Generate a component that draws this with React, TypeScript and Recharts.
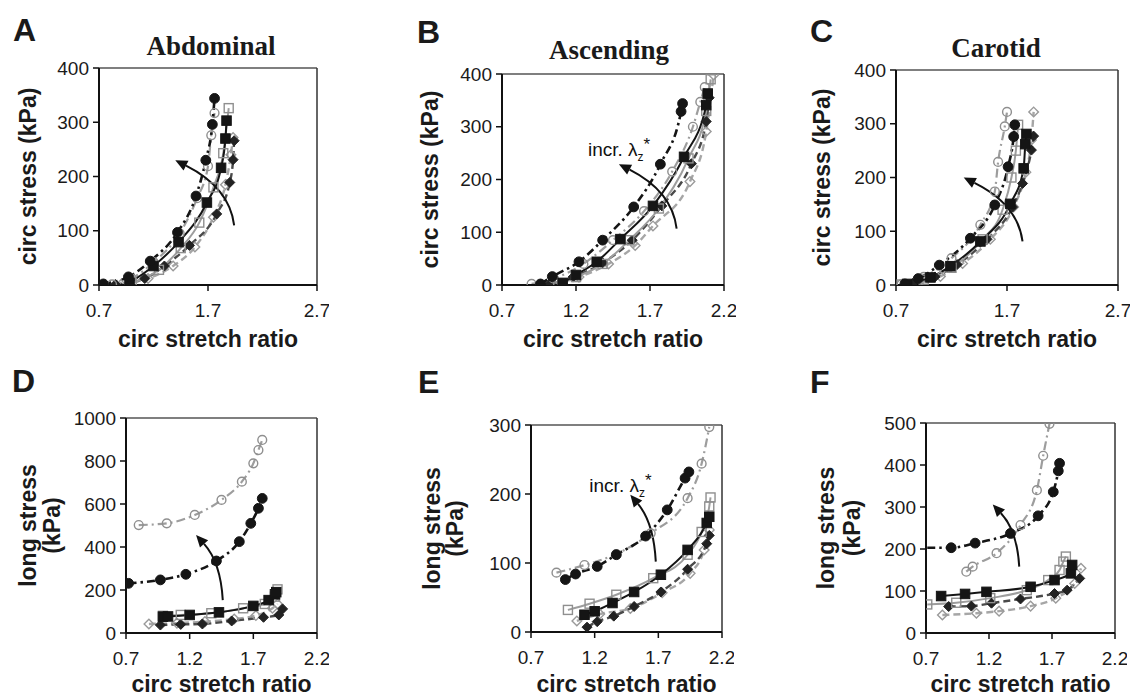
import React from "react";
import { LineChart, Line, XAxis, YAxis, ReferenceLine } from "recharts";

type Pt = [number, number];

const FONT = "'Liberation Sans', Arial, Helvetica, sans-serif";
const SERIF = "'Liberation Serif', 'Times New Roman', serif";

// tick sets
const ticksWide = [0.7, 1.7, 2.7];
const ticksNarrow = [0.7, 1.2, 1.7, 2.2];
const circStressTicks = [0, 100, 200, 300, 400];
const abdLongTicks = [0, 200, 400, 600, 800, 1000];
const ascLongTicks = [0, 100, 200, 300];
const carLongTicks = [0, 100, 200, 300, 400, 500];

// A - abdominal, circ stress
const abdCircGC: Pt[] = [[0.82, 1], [1.0, 12], [1.2, 42], [1.44, 95], [1.6, 160], [1.7, 219], [1.73, 276], [1.76, 317]];
const abdCircBC: Pt[] = [[0.74, 2], [0.97, 15], [1.17, 44], [1.42, 97], [1.59, 164], [1.68, 230], [1.74, 296], [1.76, 344]];
const abdCircGS: Pt[] = [[1.0, 3], [1.25, 28], [1.45, 68], [1.62, 115], [1.75, 180], [1.84, 243], [1.89, 326]];
const abdCircBS: Pt[] = [[0.98, 4], [1.2, 35], [1.43, 79], [1.69, 152], [1.82, 216], [1.86, 270], [1.87, 303]];
const abdCircGD: Pt[] = [[0.9, 1], [1.15, 12], [1.38, 35], [1.58, 70], [1.75, 125], [1.86, 185], [1.91, 240], [1.93, 272]];
const abdCircBD: Pt[] = [[0.85, 1], [1.12, 12], [1.3, 35], [1.53, 73], [1.78, 131], [1.9, 189], [1.93, 231], [1.94, 266]];

// B - ascending, circ stress
const ascCircGC: Pt[] = [[0.9, 2], [1.05, 12], [1.25, 40], [1.45, 85], [1.66, 140], [1.85, 215], [1.99, 300], [2.04, 347], [2.07, 375]];
const ascCircBC: Pt[] = [[0.96, 2], [1.04, 16], [1.22, 44], [1.38, 85], [1.59, 148], [1.77, 229], [1.91, 329], [1.92, 344]];
const ascCircGS: Pt[] = [[1.08, 3], [1.2, 15], [1.38, 40], [1.56, 85], [1.76, 145], [1.96, 240], [2.08, 330], [2.11, 390]];
const ascCircBS: Pt[] = [[1.11, 4], [1.2, 19], [1.34, 44], [1.5, 87], [1.72, 150], [1.93, 243], [2.08, 341], [2.09, 363]];
const ascCircGD: Pt[] = [[1.05, 2], [1.22, 15], [1.42, 40], [1.6, 75], [1.72, 112], [1.97, 196], [2.08, 291], [2.13, 398]];
const ascCircBD: Pt[] = [[1.02, 2], [1.18, 15], [1.38, 42], [1.58, 85], [1.78, 150], [1.98, 230], [2.08, 310], [2.1, 355]];

// C - carotid, circ stress
const carCircGC: Pt[] = [[0.75, 1], [0.95, 15], [1.2, 50], [1.46, 112], [1.59, 174], [1.62, 229], [1.68, 295], [1.7, 322]];
const carCircBC: Pt[] = [[0.78, 2], [0.9, 12], [1.09, 37], [1.37, 87], [1.59, 149], [1.71, 220], [1.76, 276], [1.77, 298]];
const carCircGS: Pt[] = [[0.75, 1], [0.95, 10], [1.2, 32], [1.48, 85], [1.66, 140], [1.74, 200], [1.78, 250], [1.8, 298]];
const carCircBS: Pt[] = [[0.8, 2], [1.01, 14], [1.19, 35], [1.46, 81], [1.73, 151], [1.85, 217], [1.865, 262], [1.875, 281]];
const carCircGD: Pt[] = [[0.9, 3], [1.1, 16], [1.3, 40], [1.55, 85], [1.76, 145], [1.87, 210], [1.92, 270], [1.94, 322]];
const carCircBD: Pt[] = [[0.85, 3], [1.05, 15], [1.25, 38], [1.52, 85], [1.75, 145], [1.84, 189], [1.92, 251], [1.94, 277]];

// D - abdominal, long stress
const abdLongGC: Pt[] = [[0.8, 502], [1.02, 510], [1.24, 549], [1.45, 619], [1.61, 704], [1.7, 789], [1.74, 851], [1.77, 898]];
const abdLongBC: Pt[] = [[0.72, 231], [0.97, 247], [1.17, 273], [1.41, 335], [1.59, 425], [1.68, 510], [1.74, 580], [1.77, 626]];
const abdLongGS: Pt[] = [[0.99, 80], [1.13, 84], [1.37, 92], [1.62, 115], [1.79, 135], [1.87, 169], [1.89, 203]];
const abdLongBS: Pt[] = [[0.99, 76], [1.03, 77], [1.2, 84], [1.43, 96], [1.7, 126], [1.82, 153], [1.87, 180], [1.88, 190]];
const abdLongGD: Pt[] = [[0.88, 42], [1.1, 46], [1.32, 53], [1.55, 65], [1.72, 81], [1.85, 115], [1.89, 135]];
const abdLongBD: Pt[] = [[0.97, 37], [1.13, 40], [1.3, 42], [1.53, 56], [1.78, 73], [1.9, 84], [1.93, 112]];

// E - ascending, long stress
const ascLongGC: Pt[] = [[0.9, 86], [1.12, 97], [1.37, 113], [1.64, 143], [1.93, 194], [2.04, 244], [2.1, 297]];
const ascLongBC: Pt[] = [[0.97, 76], [1.05, 84], [1.22, 95], [1.37, 112], [1.6, 139], [1.77, 177], [1.91, 223], [1.94, 232]];
const ascLongGS: Pt[] = [[0.99, 32], [1.16, 41], [1.37, 54], [1.66, 78], [1.93, 112], [2.04, 145], [2.1, 182], [2.11, 195]];
const ascLongBS: Pt[] = [[1.12, 25], [1.2, 30], [1.34, 42], [1.51, 58], [1.72, 83], [1.93, 119], [2.08, 158], [2.1, 167]];
const ascLongGD: Pt[] = [[1.06, 16], [1.24, 26], [1.48, 34], [1.73, 57], [1.95, 85], [2.06, 119], [2.1, 148]];
const ascLongBD: Pt[] = [[1.14, 7], [1.22, 15], [1.35, 23], [1.51, 37], [1.72, 58], [1.93, 91], [2.08, 128], [2.1, 140]];

// F - carotid, long stress
const carLongGC: Pt[] = [[1.02, 146], [1.07, 158], [1.26, 190], [1.45, 257], [1.58, 340], [1.63, 422], [1.68, 498]];
const carLongBC: Pt[] = [[0.71, 203], [0.9, 203], [1.09, 214], [1.37, 237], [1.59, 279], [1.71, 336], [1.75, 386], [1.76, 404]];
const carLongGS: Pt[] = [[0.71, 68], [0.94, 72], [1.21, 83], [1.5, 102], [1.67, 126], [1.76, 150], [1.79, 170], [1.81, 182]];
const carLongBS: Pt[] = [[0.82, 88], [1.01, 93], [1.18, 98], [1.53, 110], [1.72, 126], [1.85, 142], [1.86, 162]];
const carLongGD: Pt[] = [[0.83, 43], [1.1, 47], [1.28, 52], [1.53, 64], [1.73, 83], [1.88, 118], [1.93, 154]];
const carLongBD: Pt[] = [[0.88, 63], [1.06, 64], [1.22, 71], [1.45, 81], [1.72, 94], [1.82, 102], [1.92, 130]];

type Kind = "circle" | "square" | "diamond";
interface SeriesStyle {
  stroke: string;
  width: number;
  dash?: string;
  kind: Kind;
  filled: boolean;
  mark: string;
}

const STYLES: Record<string, SeriesStyle> = {
  GD: { stroke: "#a6a6a6", width: 2.4, dash: "7 4", kind: "diamond", filled: false, mark: "#9a9a9a" },
  BD: { stroke: "#4a4a4a", width: 2.4, dash: "7 4", kind: "diamond", filled: true, mark: "#222" },
  GS: { stroke: "#9d9d9d", width: 2, kind: "square", filled: false, mark: "#8f8f8f" },
  GC: { stroke: "#9d9d9d", width: 2.2, dash: "9 4 2 4", kind: "circle", filled: false, mark: "#8f8f8f" },
  BS: { stroke: "#151515", width: 2, kind: "square", filled: true, mark: "#151515" },
  BC: { stroke: "#151515", width: 2.6, dash: "8 4 2.5 4", kind: "circle", filled: true, mark: "#151515" },
};
const ORDER = ["GD", "BD", "GS", "GC", "BS", "BC"];

interface PanelCfg {
  id: string;
  box: [number, number, number, number];
  xDomain: [number, number];
  xTicks: number[];
  yDomain: [number, number];
  yTicks: number[];
  yLabel: string[];
  yLabelOffsets: number[];
  xLabelDy: number;
  letterPos: [number, number];
  title?: string;
  titlePos?: [number, number];
  series: Record<string, Pt[]>;
  hideFirstDot?: string[];
  arrow: { from: Pt; to: Pt };
  note?: { dx: number; dy: number };
}

const PANELS: PanelCfg[] = [
  {
    id: "A", box: [99, 68, 317, 285], xDomain: [0.7, 2.7], xTicks: ticksWide, yDomain: [0, 400], yTicks: circStressTicks,
    yLabel: ["circ stress (kPa)"], yLabelOffsets: [-71], xLabelDy: 62, letterPos: [13, 41], title: "Abdominal", titlePos: [211, 55],
    series: { GD: abdCircGD, BD: abdCircBD, GS: abdCircGS, GC: abdCircGC, BS: abdCircBS, BC: abdCircBC },
    arrow: { from: [1.94, 110], to: [1.4, 230] },
  },
  {
    id: "B", box: [502, 74, 724, 285], xDomain: [0.7, 2.2], xTicks: ticksNarrow, yDomain: [0, 400], yTicks: circStressTicks,
    yLabel: ["circ stress (kPa)"], yLabelOffsets: [-72], xLabelDy: 62, letterPos: [417, 43], title: "Ascending", titlePos: [609, 59],
    series: { GD: ascCircGD, BD: ascCircBD, GS: ascCircGS, GC: ascCircGC, BS: ascCircBS, BC: ascCircBC },
    arrow: { from: [1.88, 107], to: [1.49, 229] }, note: { dx: -31, dy: -8 },
  },
  {
    id: "C", box: [896, 70, 1118, 285], xDomain: [0.7, 2.7], xTicks: ticksWide, yDomain: [0, 400], yTicks: circStressTicks,
    yLabel: ["circ stress (kPa)"], yLabelOffsets: [-74], xLabelDy: 62, letterPos: [810, 42], title: "Carotid", titlePos: [996, 57],
    series: { GD: carCircGD, BD: carCircBD, GS: carCircGS, GC: carCircGC, BS: carCircBS, BC: carCircBC },
    arrow: { from: [1.84, 81], to: [1.31, 200] },
  },
  {
    id: "D", box: [126, 418, 317, 633], xDomain: [0.7, 2.2], xTicks: ticksNarrow, yDomain: [0, 1000], yTicks: abdLongTicks,
    yLabel: ["long stress", "(kPa)"], yLabelOffsets: [-98, -74], xLabelDy: 59, letterPos: [12, 392],
    series: { GD: abdLongGD, BD: abdLongBD, GS: abdLongGS, GC: abdLongGC, BS: abdLongBS, BC: abdLongBC },
    arrow: { from: [1.46, 153], to: [1.25, 456] },
  },
  {
    id: "E", box: [531, 425, 722, 632], xDomain: [0.7, 2.2], xTicks: ticksNarrow, yDomain: [0, 300], yTicks: ascLongTicks,
    yLabel: ["long stress", "(kPa)"], yLabelOffsets: [-99, -76], xLabelDy: 60, letterPos: [418, 393],
    series: { GD: ascLongGD, BD: ascLongBD, GS: ascLongGS, GC: ascLongGC, BS: ascLongBS, BC: ascLongBC },
    arrow: { from: [1.68, 102], to: [1.48, 199] }, note: { dx: -41, dy: -3 },
  },
  {
    id: "F", box: [926, 423, 1115, 633], xDomain: [0.7, 2.2], xTicks: ticksNarrow, yDomain: [0, 500], yTicks: carLongTicks,
    yLabel: ["long stress", "(kPa)"], yLabelOffsets: [-100, -74], xLabelDy: 59, letterPos: [810, 393],
    series: { GD: carLongGD, BD: carLongBD, GS: carLongGS, GC: carLongGC, BS: carLongBS, BC: carLongBC },
    hideFirstDot: ["BC"],
    arrow: { from: [1.44, 158], to: [1.23, 306] },
  },
];

const toPoints = (arr: Pt[]) => arr.map(([x, y]) => ({ x, y }));

function makeDot(style: SeriesStyle, hideFirst: boolean) {
  return (props: any) => {
    const { cx, cy, index } = props;
    const key = `dot-${index}`;
    if (cx == null || cy == null || (hideFirst && index === 0)) return <g key={key} />;
    const fill = style.filled ? style.mark : "none";
    const sw = style.filled ? 1 : 1.4;
    if (style.kind === "circle") {
      return <circle key={key} cx={cx} cy={cy} r={style.filled ? 4.9 : 4.4} fill={fill} stroke={style.mark} strokeWidth={sw} />;
    }
    if (style.kind === "square") {
      const s = style.filled ? 9.5 : 9;
      return <rect key={key} x={cx - s / 2} y={cy - s / 2} width={s} height={s} fill={fill} stroke={style.mark} strokeWidth={sw} />;
    }
    const d = style.filled ? 5 : 4.8;
    return (
      <polygon key={key} points={`${cx},${cy - d} ${cx + d},${cy} ${cx},${cy + d} ${cx - d},${cy}`}
        fill={fill} stroke={style.mark} strokeWidth={sw} />
    );
  };
}

function CurvedArrow(props: any) {
  const { x1, y1, x2, y2, note } = props;
  if ([x1, y1, x2, y2].some((v) => v == null || isNaN(v))) return <g />;
  const qx = x1 - (x1 - x2) * 0.08;
  const qy = y2 + (y1 - y2) * 0.42;
  let ux = x2 - qx;
  let uy = y2 - qy;
  const len = Math.hypot(ux, uy) || 1;
  ux /= len;
  uy /= len;
  const L = 12;
  const W = 5.5;
  const bx = x2 - ux * L;
  const by = y2 - uy * L;
  return (
    <g>
      <path d={`M${x1},${y1} Q${qx},${qy} ${bx},${by}`} fill="none" stroke="#111" strokeWidth={2} />
      <polygon points={`${x2},${y2} ${bx - uy * W},${by + ux * W} ${bx + uy * W},${by - ux * W}`} fill="#111" />
      {note && (
        <text x={x2 + note.dx} y={y2 + note.dy} fontSize={19} fontFamily={FONT} fill="#111">
          incr. λ
          <tspan fontSize={12} dy={5}>z</tspan>
          <tspan fontSize={17} dy={-11}>*</tspan>
        </text>
      )}
    </g>
  );
}

const ML = 110;
const MR = 12;
const MT = 10;
const MB = 80;

function Panel({ cfg }: { cfg: PanelCfg }) {
  const [x0, y0, x1, y1] = cfg.box;
  const w = x1 - x0;
  const h = y1 - y0;
  const axisTick = { fill: "#1a1a1a", fontSize: 19, fontFamily: FONT };
  return (
    <div style={{ position: "absolute", left: x0 - ML, top: y0 - MT }}>
      <LineChart width={w + ML + MR} height={h + MT + MB} margin={{ top: MT, right: MR, bottom: 0, left: 0 }}>
        <XAxis
          type="number"
          dataKey="x"
          domain={cfg.xDomain}
          ticks={cfg.xTicks}
          interval={0}
          allowDataOverflow
          height={MB}
          axisLine={{ stroke: "#111", strokeWidth: 2 }}
          tickLine={{ stroke: "#111", strokeWidth: 1.5 }}
          tickSize={6}
          tickMargin={13}
          tick={axisTick}
          tickFormatter={(v: number) => v.toFixed(1)}
        />
        <YAxis
          type="number"
          domain={cfg.yDomain}
          ticks={cfg.yTicks}
          interval={0}
          allowDataOverflow
          width={ML}
          axisLine={{ stroke: "#111", strokeWidth: 2 }}
          tickLine={{ stroke: "#111", strokeWidth: 1.5 }}
          tickSize={6}
          tickMargin={4}
          tick={axisTick}
        />
        <ReferenceLine y={cfg.yDomain[1]} stroke="#555" strokeWidth={1.5} />
        <ReferenceLine x={cfg.xDomain[1]} stroke="#333" strokeWidth={1.5} />
        {ORDER.map((k) => {
          const st = STYLES[k];
          return (
            <Line
              key={k}
              data={toPoints(cfg.series[k])}
              dataKey="y"
              type="monotone"
              stroke={st.stroke}
              strokeWidth={st.width}
              strokeDasharray={st.dash}
              dot={makeDot(st, !!cfg.hideFirstDot?.includes(k))}
              activeDot={false}
              isAnimationActive={false}
            />
          );
        })}
        <ReferenceLine
          segment={[{ x: cfg.arrow.from[0], y: cfg.arrow.from[1] }, { x: cfg.arrow.to[0], y: cfg.arrow.to[1] }]}
          ifOverflow="visible"
          shape={(p: any) => <CurvedArrow {...p} note={cfg.note} />}
        />
      </LineChart>
    </div>
  );
}

function PanelText({ cfg }: { cfg: PanelCfg }) {
  const [x0, y0, x1, y1] = cfg.box;
  const cy = (y0 + y1) / 2;
  const bold = { fontFamily: FONT, fontWeight: "bold" as const, fill: "#1a1a1a" };
  return (
    <g>
      <text x={cfg.letterPos[0]} y={cfg.letterPos[1]} fontSize={32} {...bold}>{cfg.id}</text>
      {cfg.title && cfg.titlePos && (
        <text x={cfg.titlePos[0]} y={cfg.titlePos[1]} textAnchor="middle" fontFamily={SERIF} fontWeight="bold" fontSize={27} fill="#1a1a1a">
          {cfg.title}
        </text>
      )}
      <text x={(x0 + x1) / 2} y={y1 + cfg.xLabelDy} textAnchor="middle" fontSize={23} {...bold}>circ stretch ratio</text>
      {cfg.yLabel.map((t, i) => {
        const x = x0 + cfg.yLabelOffsets[i];
        return (
          <text key={i} x={x} y={cy} transform={`rotate(-90 ${x} ${cy})`} textAnchor="middle" dominantBaseline="central" fontSize={23} {...bold}>
            {t}
          </text>
        );
      })}
    </g>
  );
}

export default function App() {
  return (
    <div style={{ position: "absolute", left: 0, top: 0, width: 1132, height: 698, background: "#fff", overflow: "hidden" }}>
      {PANELS.map((p) => (
        <Panel key={p.id} cfg={p} />
      ))}
      <svg width={1132} height={698} style={{ position: "absolute", left: 0, top: 0, pointerEvents: "none" }}>
        {PANELS.map((p) => (
          <PanelText key={p.id} cfg={p} />
        ))}
      </svg>
    </div>
  );
}
